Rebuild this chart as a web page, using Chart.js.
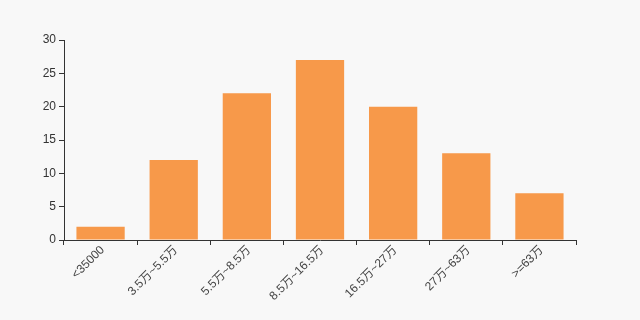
<!DOCTYPE html>
<html>
<head>
<meta charset="utf-8">
<script src="https://cdn.jsdelivr.net/npm/chart.js@4/dist/chart.umd.min.js"></script>
<style>
    html, body { margin: 0; padding: 0; background: #f8f8f8; }
    #wrap { width: 640px; height: 320px; }
</style>
</head>
<body>
<div id="wrap"><canvas id="incomeChart" width="640" height="320"></canvas></div>
<script>
// income ranges and counts
let CATEGORIES = ["<35000", "3.5万~5.5万", "5.5万~8.5万", "8.5万~16.5万", "16.5万~27万", "27万~63万", ">=63万"]
let COUNTS = [2, 12, 22, 27, 20, 13, 7]
let Y_TICKS = [0, 5, 10, 15, 20, 25, 30]

const FONT = "'Liberation Sans', 'Noto Sans CJK SC', sans-serif"
const AXIS_COLOR = '#333'

window.onload = (event) => {
    const ctx = document.getElementById('incomeChart').getContext('2d')
    new Chart(ctx, {
        type: 'bar',
        data: {
            labels: CATEGORIES,
            datasets: [{
                data: COUNTS,
                backgroundColor: '#f7994a',
                borderWidth: 0,
                barPercentage: 0.66,
                categoryPercentage: 1
            }]
        },
        options: {
            responsive: false,
            animation: false,
            layout: { padding: { top: 40, right: 64, left: 0, bottom: 0 } },
            plugins: {
                legend: { display: false },
                tooltip: { enabled: false }
            },
            scales: {
                x: {
                    grid: {
                        display: true,
                        drawOnChartArea: false,
                        offset: true,
                        tickLength: 5,
                        color: AXIS_COLOR
                    },
                    border: { color: AXIS_COLOR },
                    ticks: {
                        minRotation: 45,
                        maxRotation: 45,
                        autoSkip: false,
                        padding: -2,
                        labelOffset: 2,
                        color: '#444',
                        font: { family: FONT, size: 12 }
                    },
                    afterFit: (axis) => { axis.height = 80 }
                },
                y: {
                    min: 0,
                    max: 30,
                    afterBuildTicks: (axis) => { axis.ticks = Y_TICKS.map((v) => ({ value: v })) },
                    grid: {
                        display: true,
                        drawOnChartArea: false,
                        tickLength: 5,
                        color: AXIS_COLOR
                    },
                    border: { color: AXIS_COLOR },
                    ticks: {
                        color: '#333',
                        padding: 3,
                        font: { family: FONT, size: 12 }
                    },
                    afterFit: (axis) => { axis.width = 64 }
                }
            }
        }
    })
}
</script>
</body>
</html>
